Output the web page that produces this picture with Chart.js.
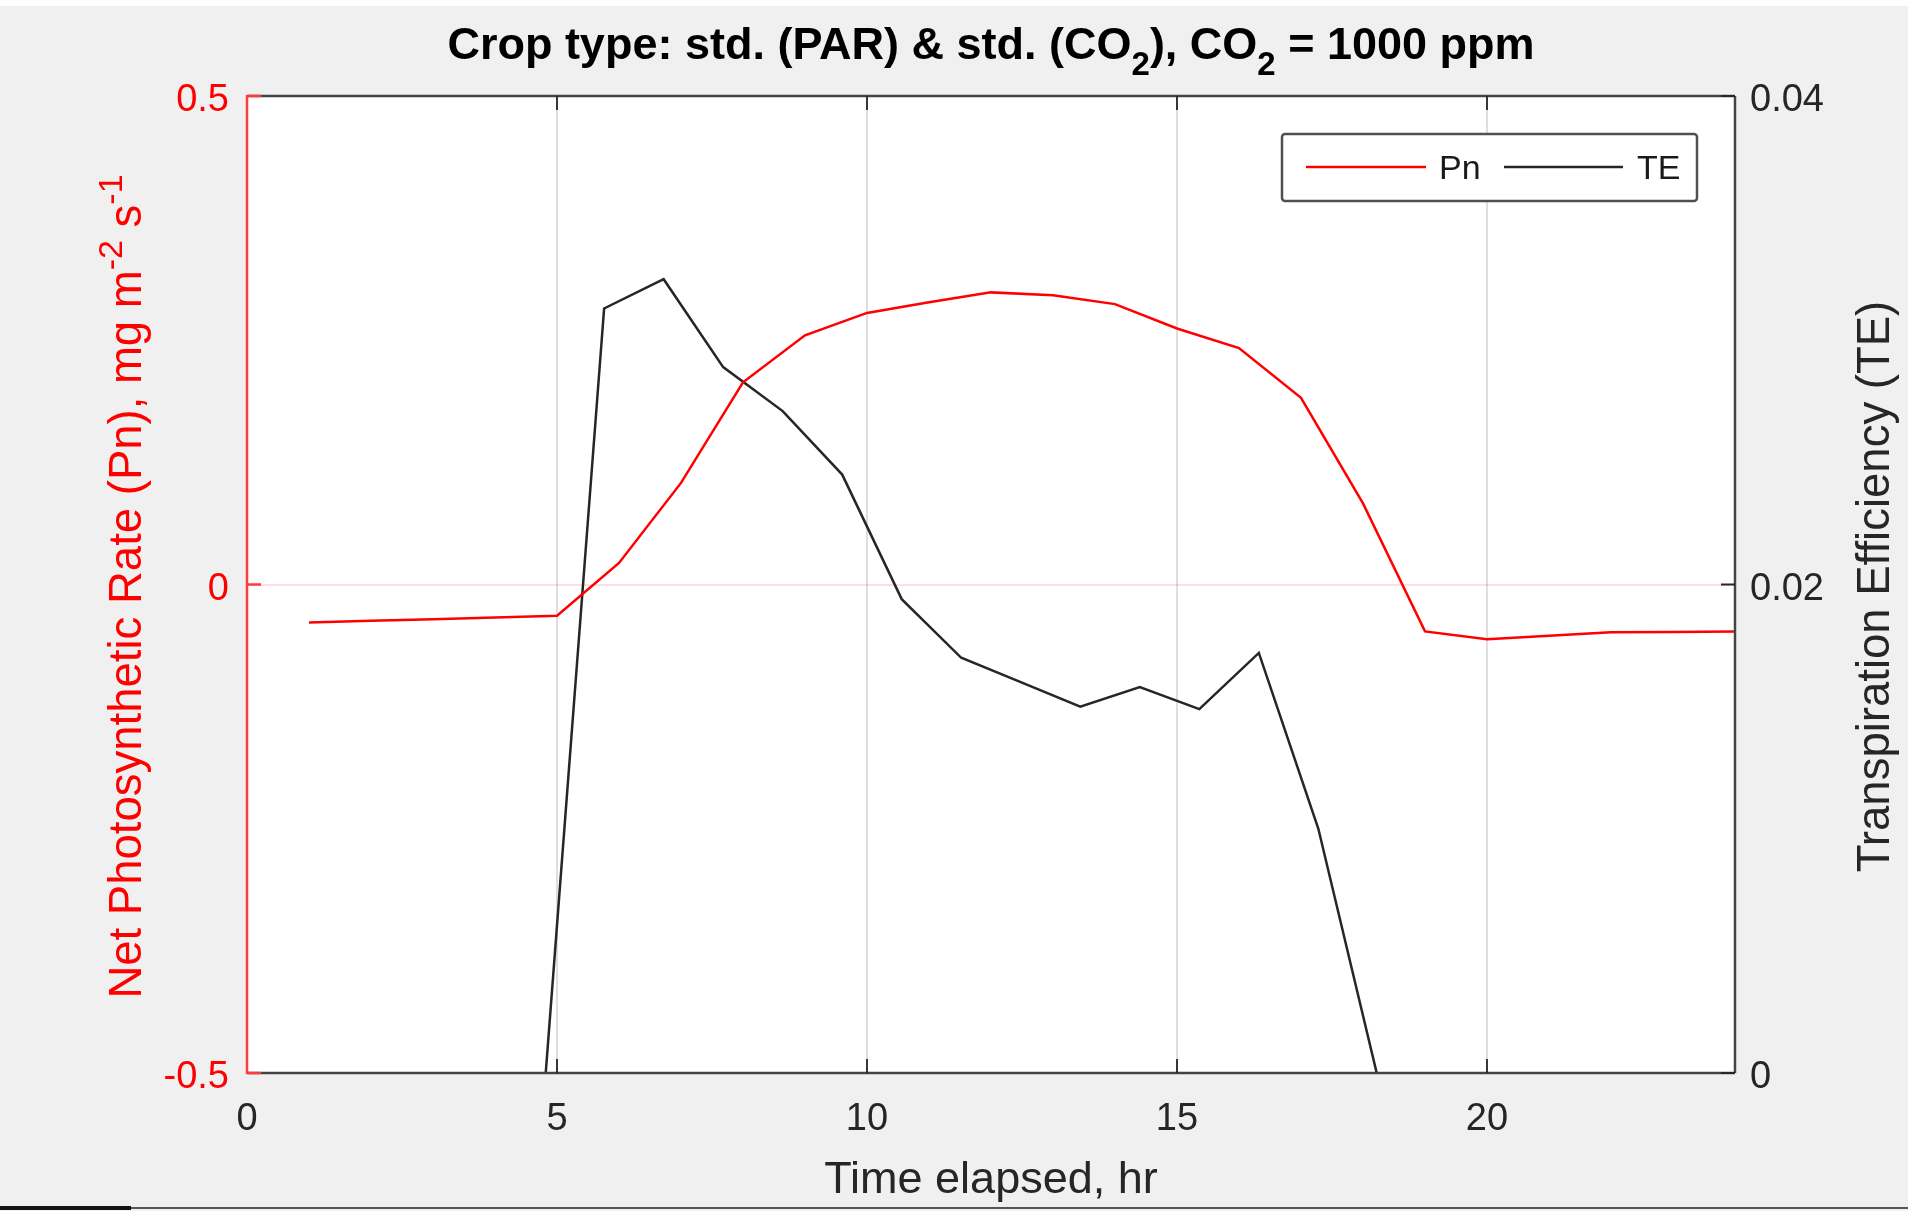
<!DOCTYPE html>
<html>
<head>
<meta charset="utf-8">
<script src="https://cdn.jsdelivr.net/npm/chart.js@4.4.1/dist/chart.umd.min.js"></script>
<style>
html,body{margin:0;padding:0;background:#f0f0f0;overflow:hidden}
#wrap{width:1908px;height:1211px;position:relative}
</style>
</head>
<body>
<div id="wrap"><canvas id="c"></canvas></div>
<script>
// ---------- data ----------
const pnHours  = [1,2,3,4,5,6,7,8,9,10,11,12,13,14,15,16,17,18,19,20,21,22,23,24];
const pnValues = [-0.039,-0.0372,-0.0355,-0.0338,-0.032,0.022,0.104,0.207,0.255,0.278,0.289,0.299,
                  0.296,0.287,0.262,0.242,0.191,0.083,-0.048,-0.056,-0.0525,-0.049,-0.0485,-0.048];
const teHours  = [4.8,5.76,6.72,7.68,8.64,9.6,10.56,11.52,12.48,13.44,14.4,15.36,16.32,17.28,18.24];
const teValues = [-0.0006,0.0313,0.0325,0.0289,0.0271,0.0245,0.0194,0.0170,0.0160,0.0150,0.0158,
                  0.0149,0.0172,0.0100,-0.0002];
const seriesLabels = ['Pn','TE'];
const xTicks = [0,5,10,15,20];
const xTickLabels = ['0','5','10','15','20'];
const pnTicks = [-0.5,0,0.5];
const pnTickLabels = ['-0.5','0','0.5'];
const teTicks = [0,0.02,0.04];
const teTickLabels = ['0','0.02','0.04'];
const titleParts = [{t:'Crop type: std. (PAR) & std. (CO'},{t:'2',s:'sub'},{t:'), CO'},{t:'2',s:'sub'},{t:' = 1000 ppm'}];
const xTitle = 'Time elapsed, hr';
const yLeftParts = [{t:'Net Photosynthetic Rate (Pn), mg m'},{t:'-2',s:'sup'},{t:' s'},{t:'-1',s:'sup'}];
const yRightParts = [{t:'Transpiration Efficiency (TE)'}];

// ---------- style ----------
const FAMILY = '"Liberation Sans", Arial, Helvetica, sans-serif';
const RED = 'rgb(255,0,0)';
const GRAY = '#262626';
Chart.defaults.font.family = FAMILY;

function drawRich(ctx, parts, x, y, size, weight, color) {
  const sub = Math.round(size * 0.74);
  const fonts = parts.map(p => `${weight} ${p.s ? sub : size}px ${FAMILY}`);
  const widths = parts.map((p, i) => { ctx.font = fonts[i]; return ctx.measureText(p.t).width; });
  const total = widths.reduce((a, b) => a + b, 0);
  let cx = x - total / 2;
  ctx.fillStyle = color; ctx.textAlign = 'left'; ctx.textBaseline = 'alphabetic';
  parts.forEach((p, i) => {
    ctx.font = fonts[i];
    const dy = p.s === 'sub' ? size * 0.36 : p.s === 'sup' ? -size * 0.42 : 0;
    ctx.fillText(p.t, cx, y + dy);
    cx += widths[i];
  });
}

const matlabLook = {
  id: 'matlabLook',
  beforeDraw(chart) {
    const {ctx, chartArea: a, width, height} = chart;
    ctx.save();
    ctx.fillStyle = '#f0f0f0'; ctx.fillRect(0, 0, width, height);
    ctx.fillStyle = '#ffffff'; ctx.fillRect(0, 0, width, 6);
    ctx.fillRect(a.left, a.top, a.right - a.left, a.bottom - a.top);
    ctx.fillStyle = '#555555'; ctx.fillRect(0, height - 4, width, 2);
    ctx.fillStyle = '#111111'; ctx.fillRect(0, height - 5, 131, 4);
    ctx.restore();
  },
  afterDatasetsDraw(chart) {
    const {ctx, chartArea: a, scales} = chart;
    ctx.save();
    // frame
    ctx.lineWidth = 2.5;
    ctx.strokeStyle = '#444444';
    ctx.beginPath();
    ctx.moveTo(a.left, a.top); ctx.lineTo(a.right, a.top);
    ctx.moveTo(a.left, a.bottom); ctx.lineTo(a.right, a.bottom);
    ctx.moveTo(a.right, a.top); ctx.lineTo(a.right, a.bottom);
    ctx.stroke();
    ctx.strokeStyle = 'rgb(255,60,60)';
    ctx.beginPath(); ctx.moveTo(a.left, a.top - 1); ctx.lineTo(a.left, a.bottom + 1); ctx.stroke();
    // inward ticks
    const TL = 14;
    ctx.lineWidth = 1.8; ctx.strokeStyle = GRAY;
    ctx.beginPath();
    scales.x.ticks.forEach(t => {
      const px = scales.x.getPixelForValue(t.value);
      if (px <= a.left + 1 || px >= a.right - 1) return;
      ctx.moveTo(px, a.bottom); ctx.lineTo(px, a.bottom - TL);
      ctx.moveTo(px, a.top); ctx.lineTo(px, a.top + TL);
    });
    scales.yTE.ticks.forEach(t => {
      const py = scales.yTE.getPixelForValue(t.value);
      ctx.moveTo(a.right, py); ctx.lineTo(a.right - TL, py);
    });
    ctx.stroke();
    ctx.lineWidth = 2.5; ctx.strokeStyle = 'rgb(255,60,60)';
    ctx.beginPath();
    scales.yPn.ticks.forEach(t => {
      const py = scales.yPn.getPixelForValue(t.value);
      ctx.moveTo(a.left, py); ctx.lineTo(a.left + TL, py);
    });
    ctx.stroke();
    ctx.restore();
  },
  afterDraw(chart) {
    const {ctx, chartArea: a} = chart;
    ctx.save();
    const cx = (a.left + a.right) / 2;
    // title
    drawRich(ctx, titleParts, cx, 59, 45, 'bold', '#000000');
    // x title
    drawRich(ctx, [{t: xTitle}], cx, 1193, 45, 'normal', GRAY);
    // left y title
    const cy = (a.top + a.bottom) / 2;
    ctx.save(); ctx.translate(141, cy + 2); ctx.rotate(-Math.PI / 2);
    drawRich(ctx, yLeftParts, 0, 0, 45.5, 'normal', RED);
    ctx.restore();
    ctx.save(); ctx.translate(1889, cy + 2); ctx.rotate(-Math.PI / 2);
    drawRich(ctx, yRightParts, 0, 0, 45.5, 'normal', GRAY);
    ctx.restore();
    // legend
    const L = {x: 1282, y: 134, w: 415, h: 67};
    ctx.fillStyle = '#ffffff';
    ctx.strokeStyle = '#505050'; ctx.lineWidth = 2.5;
    ctx.beginPath();
    if (ctx.roundRect) ctx.roundRect(L.x, L.y, L.w, L.h, 3); else ctx.rect(L.x, L.y, L.w, L.h);
    ctx.fill(); ctx.stroke();
    const midY = L.y + 33;
    const items = [{x0: 1306, x1: 1426, tx: 1439}, {x0: 1504, x1: 1623, tx: 1637}];
    chart.data.datasets.forEach((ds, i) => {
      const it = items[i];
      ctx.strokeStyle = ds.borderColor; ctx.lineWidth = 2.5;
      ctx.beginPath(); ctx.moveTo(it.x0, midY); ctx.lineTo(it.x1, midY); ctx.stroke();
      ctx.fillStyle = '#1a1a1a'; ctx.font = `34px ${FAMILY}`;
      ctx.textAlign = 'left'; ctx.textBaseline = 'middle';
      ctx.fillText(ds.label, it.tx, midY + 3);
    });
    ctx.restore();
  }
};

const setTicks = vals => s => { s.ticks = vals.map(v => ({value: v})); };
const labelFrom = (vals, labels) => v => { const i = vals.indexOf(v); return i >= 0 ? labels[i] : ''; };

new Chart(document.getElementById('c'), {
  type: 'line',
  data: {
    datasets: [
      {label: seriesLabels[0], data: pnHours.map((h, i) => ({x: h, y: pnValues[i]})),
       yAxisID: 'yPn', borderColor: RED, borderWidth: 2.5, pointRadius: 0, tension: 0, fill: false},
      {label: seriesLabels[1], data: teHours.map((h, i) => ({x: h, y: teValues[i]})),
       yAxisID: 'yTE', borderColor: GRAY, borderWidth: 2.5, pointRadius: 0, tension: 0, fill: false}
    ]
  },
  options: {
    responsive: true, maintainAspectRatio: false, animation: false,
    layout: {padding: {top: 96, left: 0, right: 0, bottom: 0}},
    plugins: {legend: {display: false}, tooltip: {enabled: false}, title: {display: false}},
    scales: {
      x: {
        type: 'linear', position: 'bottom', min: 0, max: 24,
        afterBuildTicks: setTicks(xTicks),
        afterFit: s => { s.height = 138; },
        ticks: {callback: labelFrom(xTicks, xTickLabels), color: GRAY, font: {size: 38}, padding: 24, maxRotation: 0, autoSkip: false},
        grid: {color: 'rgba(0,0,0,0.13)', lineWidth: 2, drawTicks: false},
        border: {display: false}
      },
      yPn: {
        type: 'linear', position: 'left', min: -0.5, max: 0.5,
        afterBuildTicks: setTicks(pnTicks),
        afterFit: s => { s.width = 247; },
        ticks: {callback: labelFrom(pnTicks, pnTickLabels), color: RED, font: {size: 38}, padding: 18, labelOffset: 5},
        grid: {color: c => (c.tick && c.tick.value === 0) ? 'rgba(255,0,0,0.12)' : 'rgba(0,0,0,0)', lineWidth: 2, drawTicks: false},
        border: {display: false}
      },
      yTE: {
        type: 'linear', position: 'right', min: 0, max: 0.04,
        afterBuildTicks: setTicks(teTicks),
        afterFit: s => { s.width = 173; },
        ticks: {callback: labelFrom(teTicks, teTickLabels), color: GRAY, font: {size: 38}, padding: 15, labelOffset: 5},
        grid: {display: false, drawTicks: false},
        border: {display: false}
      }
    }
  },
  plugins: [matlabLook]
});
</script>
</body>
</html>
